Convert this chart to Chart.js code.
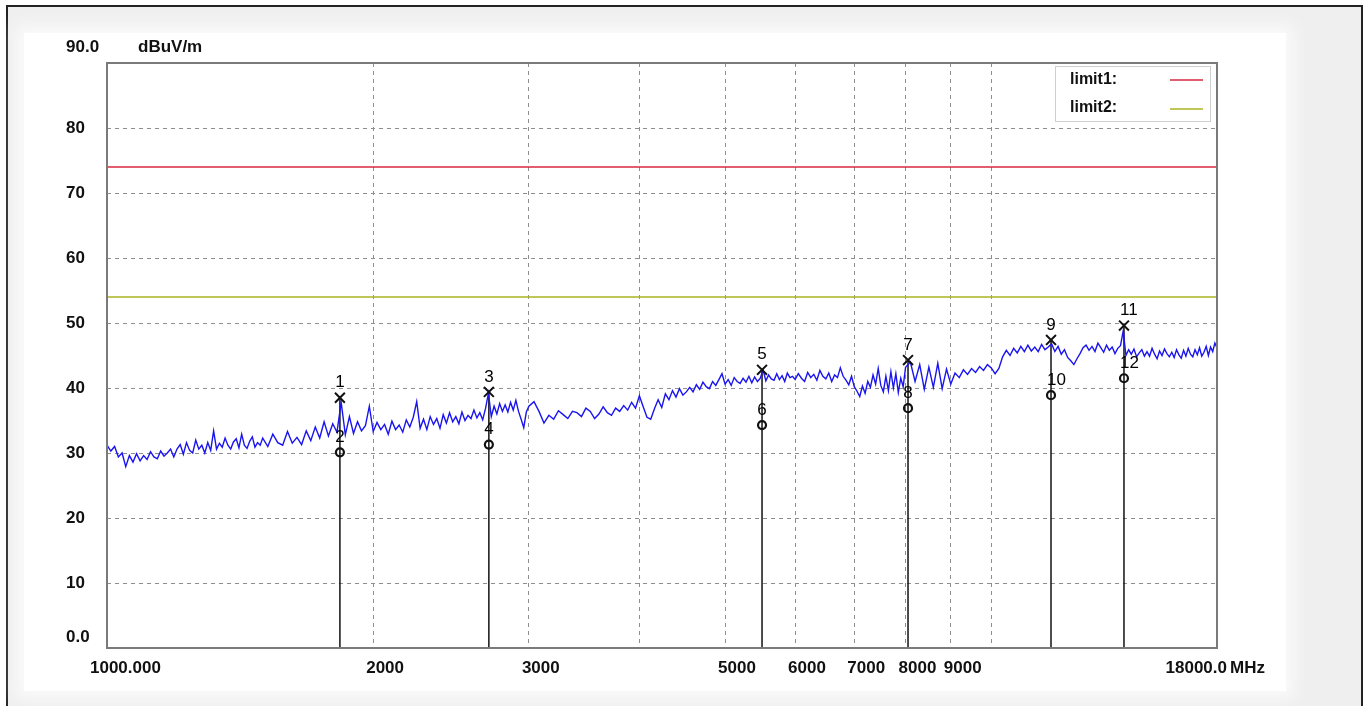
<!DOCTYPE html>
<html><head><meta charset="utf-8">
<script src="https://cdn.jsdelivr.net/npm/chart.js@4/dist/chart.umd.min.js"></script>
<style>
html,body{margin:0;padding:0;width:1368px;height:706px;overflow:hidden;background:#fff;}
#frame{position:absolute;left:6px;top:5px;width:1353px;height:720px;border:2px solid #222;background:#efefef;}
#panel{position:absolute;left:24px;top:33px;width:1262px;height:658px;background:#fff;box-shadow:0 0 14px 8px #fafafa;}
canvas{position:absolute;left:0;top:0;}
</style></head><body>
<div id="frame"></div><div id="panel"></div>
<canvas id="c" width="1368" height="706"></canvas>
<script>
// ---- data ----
const freqMHz = [
1000,1010,1020,1030,1040,1050,1060,1070,1080,1090,
1100,1110,1120,1130,1140,1150,1160,1170,1180,1190,
1200,1210,1220,1230,1240,1250,1260,1270,1280,1290,
1300,1310,1320,1330,1340,1350,1360,1370,1380,1390,
1400,1410,1420,1430,1440,1450,1460,1470,1480,1490,
1500,1520,1540,1560,1580,1600,1620,1640,1660,1680,
1700,1720,1740,1760,1780,1800,1820,1840,1860,1880,
1900,1920,1940,1960,1980,2000,2020,2040,2060,2080,
2100,2120,2140,2160,2180,2200,2220,2240,2260,2280,
2300,2320,2340,2360,2380,2400,2420,2440,2460,2480,
2500,2520,2540,2560,2580,2600,2620,2640,2660,2680,
2700,2720,2740,2760,2780,2800,2820,2840,2860,2880,
2900,2920,2940,2960,2980,
3000,3040,3080,3120,3160,3200,3240,3280,3320,3360,
3400,3440,3480,3520,3560,3600,3640,3680,3720,3760,
3800,3840,3880,3920,3960,4000,4040,4080,4120,4160,
4200,4240,4280,4320,4360,4400,4440,4480,4520,4560,
4600,4640,4680,4720,4760,4800,4840,4880,4920,4960,
5000,5040,5080,5120,5160,5200,5240,5280,5320,5360,
5400,5440,5480,5520,5560,5600,5640,5680,5720,5760,
5800,5840,5880,5920,5960,
6000,6050,6100,6150,6200,6250,6300,6350,6400,6450,
6500,6550,6600,6650,6700,6750,6800,6850,6900,6950,
7000,7050,7100,7150,7200,7250,7300,7350,7400,7450,
7500,7550,7600,7650,7700,7750,7800,7850,7900,7950,
8000,8100,8200,8300,8400,8500,8600,8700,8800,8900,
9000,9100,9200,9300,9400,9500,9600,9700,9800,9900,
10000,10100,10200,10300,10400,10500,10600,10700,10800,10900,
11000,11100,11200,11300,11400,11500,11600,11700,11800,11900,
12000,12100,12200,12300,12400,12500,12600,12700,12800,12900,
13000,13100,13200,13300,13400,13500,13600,13700,13800,13900,
14000,14100,14200,14300,14400,14500,14600,14700,14800,14900,
15000,15100,15200,15300,15400,15500,15600,15700,15800,15900,
16000,16100,16200,16300,16400,16500,16600,16700,16800,16900,
17000,17100,17200,17300,17400,17500,17600,17700,17800,17900,
18000
];
const levelDb = [
31.2,30.3,31.0,29.4,30.0,27.9,29.6,28.6,29.9,28.8,
29.6,29.0,30.2,29.4,29.1,30.3,29.5,30.0,30.6,29.4,
30.6,31.3,29.8,31.6,30.4,30.0,32.0,30.6,31.2,30.0,
31.6,30.4,33.4,30.6,31.5,30.9,32.3,31.2,30.6,31.7,
32.2,30.8,32.9,31.2,30.7,31.8,32.5,30.9,31.6,31.2,
32.3,31.0,32.9,31.6,31.2,33.3,31.5,32.4,31.3,33.4,
31.9,34.0,32.3,34.8,32.6,34.5,33.2,37.8,32.8,35.6,
33.0,34.8,33.4,34.2,37.2,33.3,34.7,33.6,34.4,32.9,
34.9,33.6,34.3,33.2,35.1,34.0,35.5,37.9,33.8,35.2,
33.6,35.6,34.4,35.3,33.8,35.9,34.6,36.2,34.8,35.6,
34.5,36.3,35.0,35.8,35.3,36.6,35.4,36.2,35.1,36.9,
39.2,35.6,37.2,36.0,37.6,36.4,37.4,36.3,37.8,36.6,
38.1,36.4,35.2,33.9,36.3,
37.2,37.9,36.4,34.6,35.8,35.2,36.5,35.9,35.3,36.4,
36.2,35.6,36.9,36.4,35.3,36.0,37.1,36.2,35.8,36.9,
36.4,37.3,36.6,37.8,36.9,38.8,37.1,35.5,35.2,36.8,
38.2,37.0,39.1,38.2,39.6,38.6,39.9,38.9,39.4,40.1,
39.4,40.5,39.8,40.9,40.2,39.9,41.0,40.4,41.3,42.2,
40.6,41.3,40.4,41.6,41.0,40.7,41.5,40.9,41.8,40.8,
41.7,41.0,41.5,42.8,41.1,42.0,41.4,41.2,42.2,41.3,
41.9,41.0,42.3,41.6,41.8,
41.3,42.2,41.5,41.0,42.4,41.6,42.1,41.2,42.7,41.8,
41.4,42.3,41.0,42.0,41.6,43.1,41.8,41.2,40.5,41.8,
40.2,39.5,38.7,40.3,39.2,41.0,40.1,42.0,40.6,43.0,
40.4,39.4,41.8,39.6,42.5,40.0,42.2,39.3,41.5,40.2,
43.2,44.0,41.0,43.6,39.8,43.2,40.1,43.8,39.9,42.9,
40.6,42.3,41.6,42.8,42.1,43.0,42.4,43.3,42.7,43.6,
43.1,42.2,43.0,44.8,45.8,45.0,46.1,45.4,46.4,45.6,
46.6,45.7,46.3,45.6,46.7,45.9,46.3,46.8,45.6,46.4,
45.2,45.9,44.7,44.2,43.6,44.5,45.3,46.2,46.6,45.8,
46.4,45.6,46.9,46.2,45.5,46.6,45.8,46.3,45.3,46.1,
46.5,48.8,45.0,45.9,45.2,46.0,44.8,45.4,45.9,44.9,
45.6,44.9,46.1,45.2,44.5,45.7,45.0,46.0,45.3,44.8,
45.5,44.7,45.9,45.1,44.6,45.8,44.9,46.1,45.2,44.8,
45.9,45.1,46.2,44.9,45.5,46.4,45.0,46.3,45.6,46.9,
46.2
];
const markerFreq  = [1834, 2703, 5505, 8051, 11683, 14128];
const peakLevel   = [38.5, 39.4, 42.8, 44.3, 47.4, 49.6];
const avgLevel    = [30.1, 31.3, 34.3, 36.9, 38.9, 41.5];
const peakLabels  = ['1','3','5','7','9','11'];
const avgLabels   = ['2','4','6','8','10','12'];
const limit1 = 74, limit2 = 54;
const xMin = 1000, xMax = 18000, yMin = 0, yMax = 90;
const xGridVals = [1000,2000,3000,4000,5000,6000,7000,8000,9000,10000,18000];
const xTickVals = [1000,2000,3000,5000,6000,7000,8000,9000,18000];
const xTickText = ['1000.000','2000','3000','5000','6000','7000','8000','9000','18000.0'];
const yTickVals = [0,10,20,30,40,50,60,70,80,90];
const yTickText = ['0.0','10','20','30','40','50','60','70','80','90.0'];
const yUnit = 'dBuV/m', xUnit = 'MHz';
const legendNames = ['limit1:','limit2:'];
const COLORS = {trace:'#1a14ee', limit1:'#d8283e', limit2:'#aab420', grid:'#8e8e8e', border:'#7a7a7a'};
const FONT = "'Liberation Sans', Arial, sans-serif";

const datasets = [
  {data: markerFreq.map((f,i)=>({x:f,y:peakLevel[i]})), showLine:false, pointStyle:'crossRot', pointRadius:7, borderColor:'#111', borderWidth:2},
  {data: markerFreq.map((f,i)=>({x:f,y:avgLevel[i]})), showLine:false, pointStyle:'circle', pointRadius:4, borderColor:'#111', backgroundColor:'rgba(0,0,0,0)', borderWidth:2.2},
  {data: freqMHz.map((f,i)=>({x:f,y:levelDb[i]})), borderColor:COLORS.trace, borderWidth:1.4, pointRadius:0, tension:0},
  {data: [{x:xMin,y:limit1},{x:xMax,y:limit1}], borderColor:COLORS.limit1, borderWidth:1.5, pointRadius:0},
  {data: [{x:xMin,y:limit2},{x:xMax,y:limit2}], borderColor:COLORS.limit2, borderWidth:1.5, pointRadius:0},
  ...markerFreq.map((f,i)=>({data:[{x:f,y:yMin},{x:f,y:peakLevel[i]}], borderColor:'#000', borderWidth:1.4, pointRadius:0}))
];

const overlay = {
  id:'overlay',
  afterDraw(chart){
    const c = chart.ctx, a = chart.chartArea, xs = chart.scales.x, ys = chart.scales.y;
    c.save();
    c.strokeStyle = COLORS.border; c.lineWidth = 2;
    c.strokeRect(a.left, a.top, a.right-a.left, a.bottom-a.top);
    c.fillStyle = '#111';
    c.font = 'bold 17px ' + FONT;
    c.textBaseline = 'middle';
    c.textAlign = 'left';
    yTickVals.forEach((v,i)=>{
      let y = ys.getPixelForValue(v);
      if (i === 0) y -= 11;
      if (i === yTickVals.length-1) y -= 16;
      c.fillText(yTickText[i], 66, y);
    });
    c.fillText(yUnit, 138, ys.getPixelForValue(yMax) - 16);
    const ty = a.bottom + 20;
    xTickVals.forEach((v,i)=>{
      const x = xs.getPixelForValue(v);
      if (i === 0) { c.textAlign='left'; c.fillText(xTickText[i], x-17, ty); }
      else if (i === xTickVals.length-1) { c.textAlign='right'; c.fillText(xTickText[i], x+10, ty); c.textAlign='left'; c.fillText(xUnit, x+13, ty); }
      else { c.textAlign='left'; c.fillText(xTickText[i], x-7, ty); }
    });
    c.fillStyle = '#fff'; c.strokeStyle = '#cfcfcf'; c.lineWidth = 1;
    c.fillRect(1055, 66, 155, 55); c.strokeRect(1055.5, 66.5, 155, 55);
    c.fillStyle = '#111'; c.font = 'bold 16px ' + FONT; c.textAlign = 'left';
    c.fillText(legendNames[0], 1070, 80);
    c.fillText(legendNames[1], 1070, 108);
    c.lineWidth = 1.5;
    c.strokeStyle = COLORS.limit1; c.beginPath(); c.moveTo(1170,80); c.lineTo(1203,80); c.stroke();
    c.strokeStyle = COLORS.limit2; c.beginPath(); c.moveTo(1170,109); c.lineTo(1203,109); c.stroke();
    c.fillStyle = '#000'; c.font = '17px ' + FONT; c.textAlign = 'left';
    markerFreq.forEach((f,i)=>{
      const x = xs.getPixelForValue(f);
      const w1 = c.measureText(peakLabels[i]).width, w2 = c.measureText(avgLabels[i]).width;
      const off1 = peakLabels[i].length > 1 ? -4 : -w1/2;
      const off2 = avgLabels[i].length > 1 ? -4 : -w2/2;
      c.fillText(peakLabels[i], x+off1, ys.getPixelForValue(peakLevel[i]) - 15);
      c.fillText(avgLabels[i], x+off2, ys.getPixelForValue(avgLevel[i]) - 15);
    });
    c.restore();
  }
};

new Chart(document.getElementById('c'), {
  type:'line',
  data:{datasets},
  options:{
    responsive:false, animation:false, devicePixelRatio:1,
    layout:{padding:{left:107, top:63, right:151, bottom:58}},
    plugins:{legend:{display:false}, tooltip:{enabled:false}},
    scales:{
      x:{type:'logarithmic', min:xMin, max:xMax,
         afterBuildTicks: s => { s.ticks = xGridVals.map(v=>({value:v})); },
         ticks:{display:false}, grid:{color:COLORS.grid, lineWidth:1, drawTicks:false},
         border:{display:false, dash:[4,4]}},
      y:{type:'linear', min:yMin, max:yMax,
         afterBuildTicks: s => { s.ticks = yTickVals.map(v=>({value:v})); },
         ticks:{display:false}, grid:{color:COLORS.grid, lineWidth:1, drawTicks:false},
         border:{display:false, dash:[4,4]}}
    }
  },
  plugins:[overlay]
});
</script></body></html>
